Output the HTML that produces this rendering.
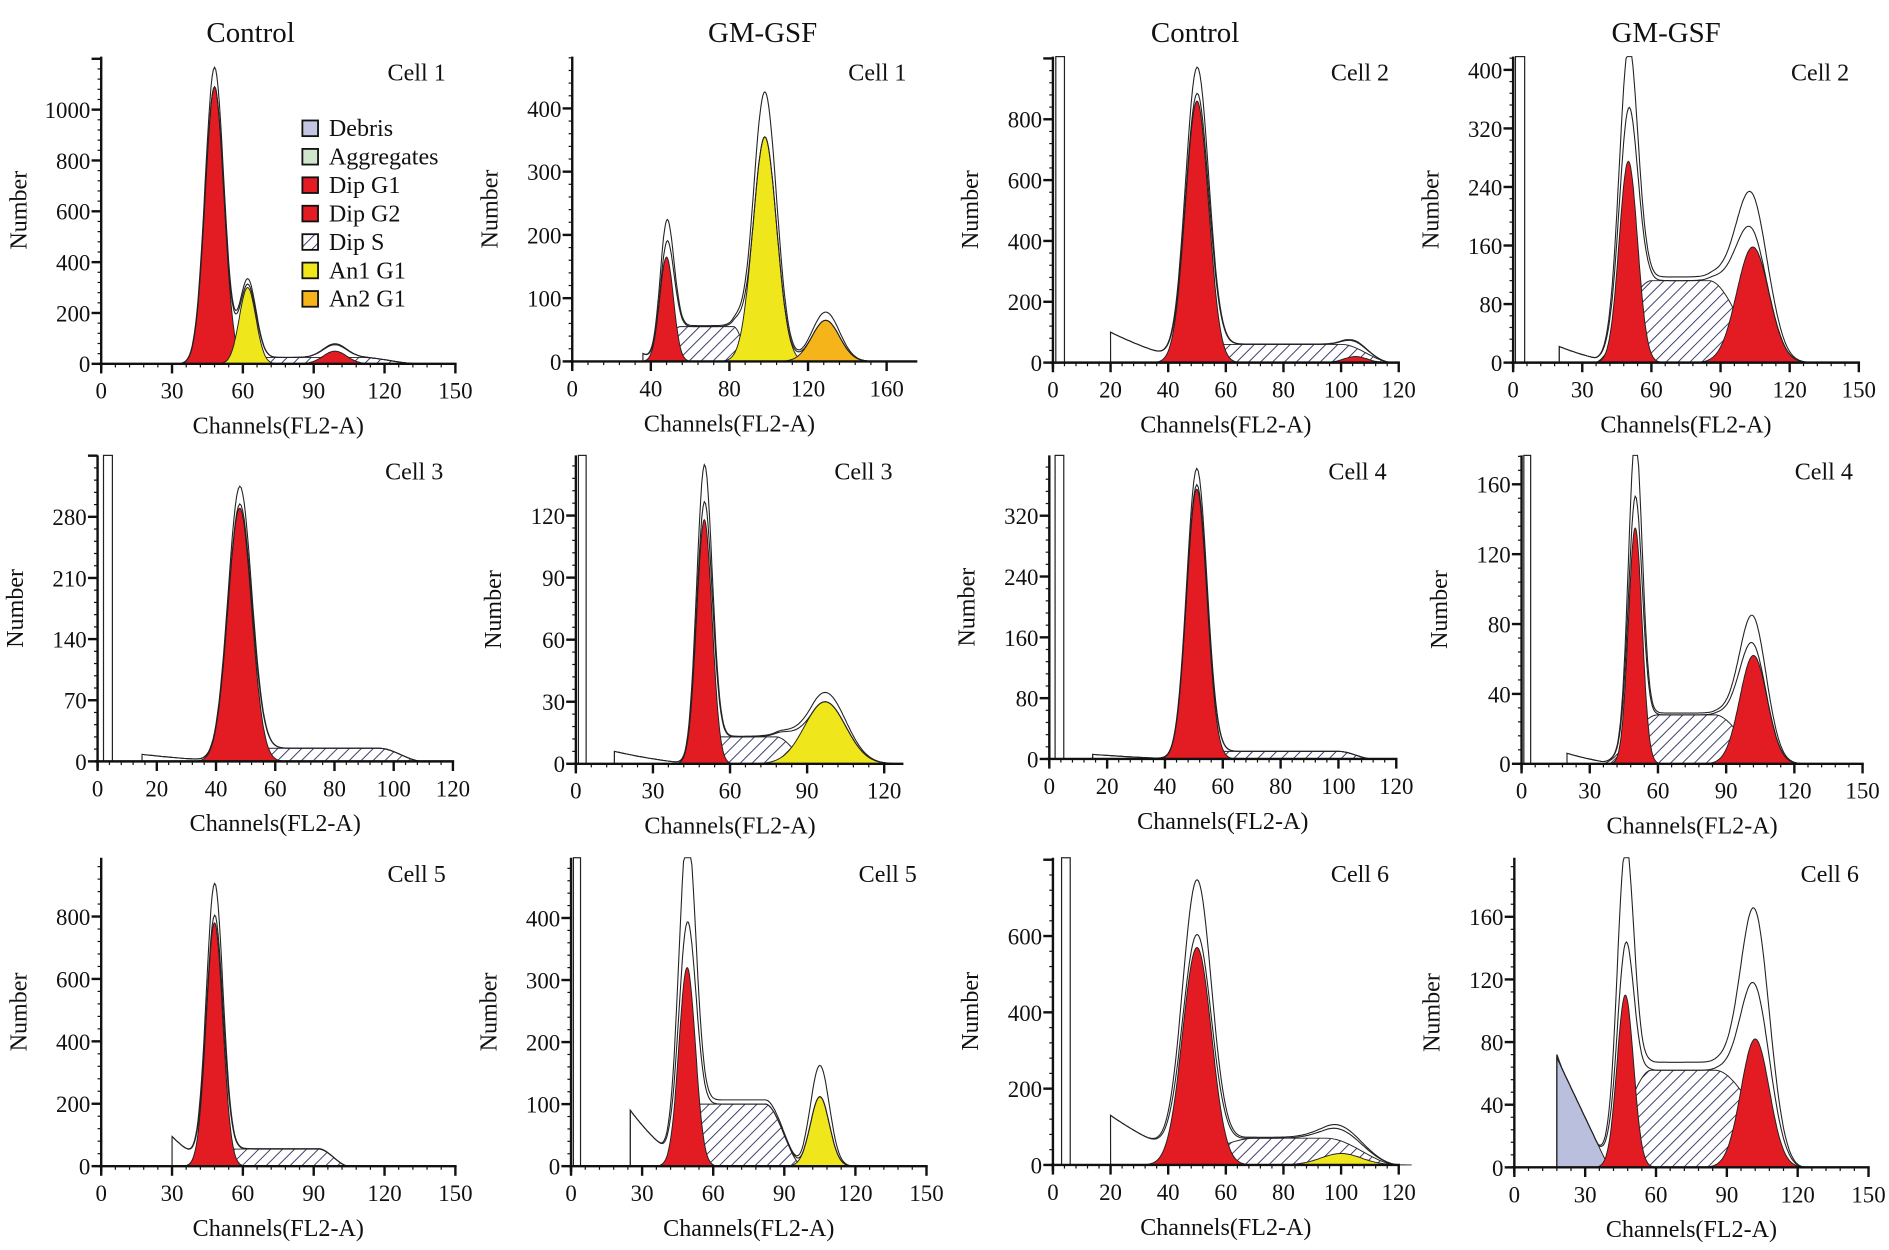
<!DOCTYPE html>
<html><head><meta charset="utf-8"><style>
html,body{margin:0;padding:0;background:#fff;}
svg{display:block;}
text{font-family:"Liberation Serif",serif;fill:#111;}
</style></head><body>
<svg id="fig" xmlns="http://www.w3.org/2000/svg" width="1889" height="1250" viewBox="0 0 1568 1037.6" preserveAspectRatio="none">
<defs>
<pattern id="hatch" patternUnits="userSpaceOnUse" width="7" height="7" patternTransform="rotate(45)">
<rect width="7" height="7" fill="#fff"/><line x1="0" y1="0" x2="0" y2="7" stroke="#3a3a6a" stroke-width="1.6"/>
</pattern>
</defs>
<text x="208" y="35" font-size="24" text-anchor="middle">Control</text>
<text x="633" y="35" font-size="24" text-anchor="middle">GM-GSF</text>
<text x="992" y="35" font-size="24" text-anchor="middle">Control</text>
<text x="1383" y="35" font-size="24" text-anchor="middle">GM-GSF</text>
<g id="legend"></g>
</svg>
<script>
// ---- data (channel, count) ----
const cellLabels = ["Cell 1","Cell 1","Cell 2","Cell 2","Cell 3","Cell 3","Cell 4","Cell 4","Cell 5","Cell 5","Cell 6","Cell 6"];
// peaks: [center, amplitude, sd, colorKey]
const peakData = [
  [[48,1090,4,"r"],[62,300,3.5,"y"],[99,50,5,"r"]],
  [[48,165,3.5,"r"],[98,355,6,"y"],[129,65,7,"o"]],
  [[50,860,4,"r"],[105,20,4,"r"]],
  [[50,275,4,"r"],[104,158,7,"r"]],
  [[48,290,4,"r"]],
  [[50,118,3,"r"],[97,30,8,"y"]],
  [[51,355,3.5,"r"]],
  [[50,135,3,"r"],[102,62,6,"r"]],
  [[48,780,3.5,"r"]],
  [[49,320,3.5,"r"],[105,112,4,"y"]],
  [[50,570,5,"r"],[100,30,7,"y"]],
  [[47,110,3.5,"r"],[102,82,6,"r"]]
];
// S phase: [start, plateauStart, plateauEnd, end, height]
const sPhase = [
  [55,70,110,135,25],[42,55,82,92,55],[42,60,100,118,60],[35,60,85,112,112],
  [42,58,95,110,15],[42,55,78,92,13],[42,58,100,112,10],[35,60,85,110,28],
  [42,55,92,105,55],[38,55,82,98,100],[38,70,95,120,70],[35,58,85,122,62]
];
// debris: [start, height, end]  (filled)
const debrisData = [null,null,null,null,null,null,null,null,null,null,null,[18,70,40]];
// outline-only left tail: [start, height, end]
const tailData = [null,[36,12,44],[20,100,50],[20,22,45],[15,8,45],[15,6,45],[15,6,45],[20,6,42],[30,95,48],[25,90,50],[20,130,55],[18,72,42]];
// extra outline factor applied to peaks (observed / fitted)
const outlineScale = [1.07,1.2,1.1,1.3,1.07,1.15,1.06,1.25,1.13,1.45,1.25,1.55];
// narrow bar near origin: [fromCh, toCh] or null
const barData = [null,null,[1,4],[1,5],[2,5],[1,4],[2,5],[1,4],null,[1,4],[3,6],null];
// axis ranges
const xStep = [30,40,20,30,20,30,20,30,30,30,20,30];
const xMaxTick = [150,160,120,150,120,120,120,150,150,150,120,150];
const xAxisEnd = [150,175,120,150,120,127,120,150,150,150,120,150];
const yStep = [200,100,200,80,70,30,80,40,200,100,200,40];
const yMaxTick = [1000,400,800,400,280,120,320,160,800,400,600,160];
const legendItems = ["Debris","Aggregates","Dip G1","Dip G2","Dip S","An1 G1","An2 G1"];
const legendColors = ["#c3c6e2","#cfe6cc","#e31b23","#e31b23","hatch","#f0e61c","#f4b41a"];

// ---- layout (pixels) ----
const layout = [
  [84,1.96,302,0.211],[475,1.631,300,0.525],[874,2.392,301,0.2525],[1256,1.913,301,0.6075],
  [81,2.458,632,0.725],[478,2.133,634,1.717],[871,2.4,630,0.631],[1263,1.887,634,1.45],
  [84,1.96,968,0.259],[474,1.967,968,0.515],[874,2.392,967,0.3167],[1257,1.96,969,1.3]
];
const axisTop = [47,378,712];
const colors = {r:"#e31b23",y:"#f0e61c",o:"#f4b41a"};
const NS = "http://www.w3.org/2000/svg";
const svg = document.getElementById("fig");

function mk(tag, attrs, parent){ const e=document.createElementNS(NS,tag); for(const k in attrs) e.setAttribute(k,attrs[k]); (parent||svg).appendChild(e); return e; }
function gauss(x,p){ return p[1]*Math.exp(-0.5*Math.pow((x-p[0])/p[2],2)); }
function sval(x,s){
  if(x<=s[0]||x>=s[3]) return 0;
  let t;
  if(x<s[1]) t=(x-s[0])/(s[1]-s[0]); else if(x>s[2]) t=(s[3]-x)/(s[3]-s[2]); else t=1;
  return s[4]*t*t*(3-2*t);
}
function lin(x,d){ if(!d||x<d[0]||x>d[2]) return 0; return d[1]*(d[2]-x)/(d[2]-d[0]); }
function tailv(x,d){ if(!d||x<d[0]||x>d[2]) return 0; const t=(x-d[0])/(d[2]-d[0]); return d[1]*(1-t)*(1-t*0.4); }

for(let i=0;i<12;i++){
  const [x0,px,y0,py]=layout[i];
  const top=axisTop[Math.floor(i/4)];
  const X=c=>x0+c*px, Y=v=>Math.max(top,y0-v*py);
  const g=mk("g",{});
  
  
  const end=xAxisEnd[i];
  const step=0.5;
  let d="M"+X(sPhase[i][0])+","+y0;
  for(let c=sPhase[i][0];c<=sPhase[i][3];c+=step) d+=" L"+X(c).toFixed(1)+","+Y(sval(c,sPhase[i])).toFixed(1);
  d+=" L"+X(sPhase[i][3])+","+y0+"Z";
  const sp=mk("path",{d:d,fill:"url(#hatch)",stroke:"#222","stroke-width":0.8},g);
  
  
  if(debrisData[i]){
    const dd=debrisData[i];
    let p="M"+X(dd[0])+","+y0;
    for(let c=dd[0];c<=dd[2];c+=step) p+=" L"+X(c).toFixed(1)+","+Y(lin(c,dd)).toFixed(1);
    p+=" L"+X(dd[2])+","+y0+"Z";
    const de=mk("path",{d:p,fill:"#b9bfdc",stroke:"#222","stroke-width":0.8},g);
    
    
  }
  peakData[i].forEach((pk,k)=>{
    const a=pk[0]-3.5*pk[2], b=pk[0]+3.5*pk[2];
    let p="M"+X(a).toFixed(1)+","+y0;
    for(let c=a;c<=b;c+=0.25) p+=" L"+X(c).toFixed(1)+","+Y(gauss(c,pk)).toFixed(1);
    p+=" L"+X(b).toFixed(1)+","+y0+"Z";
    const pe=mk("path",{d:p,fill:colors[pk[3]],stroke:"#222","stroke-width":0.8},g);
    
    
  });
  function total(c,sc){
    let pk=0; peakData[i].forEach(p=>pk+=gauss(c,p));
    const base=sval(c,sPhase[i]);
    const deb=lin(c,debrisData[i]);
    return Math.max(deb, tailv(c,tailData[i]) + pk*sc + base*(1+(sc-1)*0.15));
  }
  const startC=tailData[i]?tailData[i][0]:0;
  for(const sc of [1,outlineScale[i]]){
    let p="M"+X(startC)+","+y0;
    for(let c=startC;c<=Math.min(end,150);c+=step){ p+=" L"+X(c).toFixed(1)+","+Y(total(c,sc)).toFixed(1); }
    const ol=mk("path",{d:p,fill:"none",stroke:"#222","stroke-width":0.9},g);
    
    
  }
  if(barData[i]){
    const br=mk("rect",{x:X(barData[i][0]),y:top,width:(barData[i][1]-barData[i][0])*px,height:y0-top,fill:"#fff",stroke:"#222","stroke-width":1},g);
    
    
  }
  const ax=mk("g",{stroke:"#111"},g);
  
  
  mk("line",{x1:x0,y1:top,x2:x0,y2:y0+5,"stroke-width":2},ax);
  mk("line",{x1:x0-2,y1:y0,x2:X(end)+1,y2:y0,"stroke-width":2},ax);
  for(let c=0;c<=xMaxTick[i]+0.01;c+=xStep[i]/5){
    const major=Math.abs(c/xStep[i]-Math.round(c/xStep[i]))<0.01;
    mk("line",{x1:X(c),y1:y0,x2:X(c),y2:y0+(major?8:3),"stroke-width":major?2:1},ax);
    if(major){
      const t=mk("text",{x:X(c),y:y0+29,"font-size":19,"text-anchor":"middle",stroke:"none"},g);
      t.textContent=Math.round(c);
      
      
    }
  }
  for(let v=0;y0-v*py>=top;v+=yStep[i]/5){
    const major=Math.abs(v/yStep[i]-Math.round(v/yStep[i]))<0.01;
    mk("line",{x1:x0,y1:y0-v*py,x2:x0-(major?8:3),y2:y0-v*py,"stroke-width":major?2:1},ax);
    if(major && v<=yMaxTick[i]){
      const t=mk("text",{x:x0-9,y:y0-v*py+7,"font-size":19,"text-anchor":"end",stroke:"none"},g);
      t.textContent=Math.round(v);
      
      
    }
  }
  const xt=mk("text",{x:(x0+X(xMaxTick[i]))/2,y:y0+58,"font-size":20,"text-anchor":"middle"},g);
  xt.textContent="Channels(FL2-A)";
  
  
  const ny=(top+y0)/2, nx=x0-62;
  const yt=mk("text",{x:nx,y:ny,"font-size":20,"text-anchor":"middle",transform:"rotate(-90 "+nx+" "+ny+")"},g);
  yt.textContent="Number";
  
  
  const cl=mk("text",{x:X(xAxisEnd[i])-8,y:top+20,"font-size":20,"text-anchor":"end"},g);
  cl.textContent=cellLabels[i];
  
  
}
const lg=document.getElementById("legend");
legendItems.forEach((name,k)=>{
  const y=100+k*23.6;
  const r=mk("rect",{x:251,y:y,width:13,height:13,fill:legendColors[k]==="hatch"?"url(#hatch)":legendColors[k],stroke:"#111","stroke-width":1.5},lg);
  
  
  const t=mk("text",{x:273,y:y+13,"font-size":20},lg);
  t.textContent=name;
  
  
});
</script>
</body></html>
